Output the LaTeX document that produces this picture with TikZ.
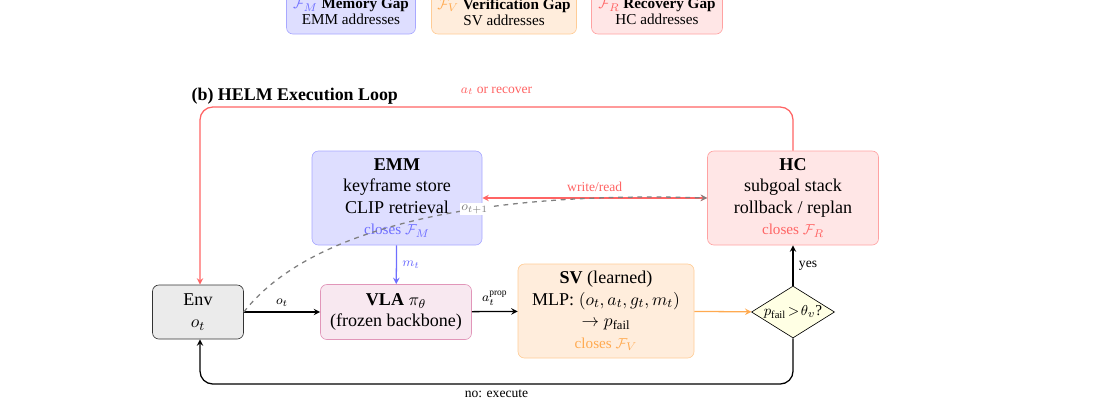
\documentclass[tikz,border=0pt]{standalone}
\usepackage{amsmath}
\usepackage{fontspec}
\setmainfont{Liberation Serif}
\usepackage{tikz}
\usetikzlibrary{shapes,arrows,positioning,fit,calc}
\definecolor{boxblue}{RGB}{222,222,255}
\definecolor{lineblue}{RGB}{110,110,255}
\definecolor{boxred}{RGB}{255,230,230}
\definecolor{linered}{RGB}{255,100,100}
\definecolor{boxorange}{RGB}{255,237,220}
\definecolor{lineorange}{RGB}{255,170,80}
\definecolor{boxpink}{RGB}{248,232,240}
\definecolor{linepink}{RGB}{225,150,185}
\definecolor{boxgray}{RGB}{235,235,235}
\definecolor{boxyellow}{RGB}{255,255,228}

\begin{document}
\begin{tikzpicture}[
    x=0.022cm, y=-0.022cm,
    box/.style={rectangle, draw, rounded corners, align=center, inner sep=2pt, font=\fontsize{11.3}{13.5}\selectfont},
    gap/.style={box, minimum height=44*0.022cm, font=\fontsize{9.5}{10}\selectfont},
    arrow/.style={->, >=stealth, thick},
    lbl/.style={font=\fontsize{8.5}{10}\selectfont}
]
    \useasboundingbox (0,0) rectangle (1104,405);
    % gap legend
    \node[gap, fill=boxblue, draw=lineblue!60, minimum width=129*0.022cm] (gapM) at (351,12) {{\color{lineblue}$\mathcal{F}_M$} \textbf{Memory Gap}\\EMM addresses};
    \node[gap, fill=boxorange, draw=lineorange!60, minimum width=145*0.022cm] (gapV) at (504,12) {{\color{lineorange}$\mathcal{F}_V$} \textbf{Verification Gap}\\SV addresses};
    \node[gap, fill=boxred, draw=linered!60, minimum width=131*0.022cm] (gapR) at (657,12) {{\color{linered}$\mathcal{F}_R$} \textbf{Recovery Gap}\\HC addresses};

    \node[anchor=west, font=\fontsize{11.2}{13}\bfseries] (title) at (186,96) {(b) HELM Execution Loop};

    % modules
    \node[box, fill=boxblue, draw=lineblue!60, minimum width=170*0.022cm, minimum height=94*0.022cm] (emm) at (397,198)
        {\textbf{EMM}\\keyframe store\\CLIP retrieval\\{\fontsize{9.5}{12}\selectfont\color{lineblue}closes $\mathcal{F}_M$}};
    \node[box, fill=boxred, draw=linered!60, minimum width=171*0.022cm, minimum height=94*0.022cm] (hc) at (793,198)
        {\textbf{HC}\\subgoal stack\\rollback / replan\\{\fontsize{9.5}{12}\selectfont\color{linered}closes $\mathcal{F}_R$}};
    \node[box, fill=boxgray, draw=black!80, minimum width=91*0.022cm, minimum height=54*0.022cm] (env) at (198,312) {Env\\$o_t$};
    \node[box, fill=boxpink, draw=linepink, minimum width=151*0.022cm, minimum height=55*0.022cm] (vla) at (396,312)
        {\textbf{VLA} $\pi_\theta$\\(frozen backbone)};
    \node[box, fill=boxorange, draw=lineorange!60, minimum width=176*0.022cm, minimum height=94*0.022cm] (sv) at (606,311)
        {\textbf{SV} (learned)\\MLP: $(o_t,a_t,g_t,m_t)$\\$\rightarrow p_{\text{fail}}$\\{\fontsize{9.5}{12}\selectfont\color{lineorange}closes $\mathcal{F}_V$}};
    \node[diamond, draw, fill=boxyellow, aspect=1.6, inner sep=0.5pt, font=\fontsize{9.5}{11}\selectfont] (dec) at (793,312) {$p_{\text{fail}}\!>\!\theta_v$?};

    % connectors
    \draw[arrow] (env) -- node[lbl, above] {$o_t$} (vla);
    \draw[arrow, lineblue] (emm) -- node[lbl, right] {$m_t$} (vla);
    \draw[arrow] (vla) -- node[lbl, above] {$a_t^{\text{prop}}$} (sv);
    \draw[arrow, lineorange] (sv) -- (dec);
    \draw[arrow] (dec) -- node[lbl, right] {yes} (hc);
    \draw[<->, >=stealth, thick, linered] (emm) -- node[lbl, above] {write/read} (hc);
    \draw[arrow, dashed, gray] (env.east) .. controls (320,215) and (520,192) .. node[pos=0.58, lbl, fill=white, inner sep=1pt] {$o_{t+1}$} (hc.west);
    \draw[arrow, linered, rounded corners=8pt] (hc.north) |- (200,107) node[lbl, above=4pt, pos=0.75] {$a_t$ or recover} -- (env.north -| 200,0);
    \draw[arrow, rounded corners=8pt] (dec.south) |- (200,384) node[lbl, below, pos=0.75] {no: execute} -- (env.south -| 200,0);
\end{tikzpicture}
\end{document}
